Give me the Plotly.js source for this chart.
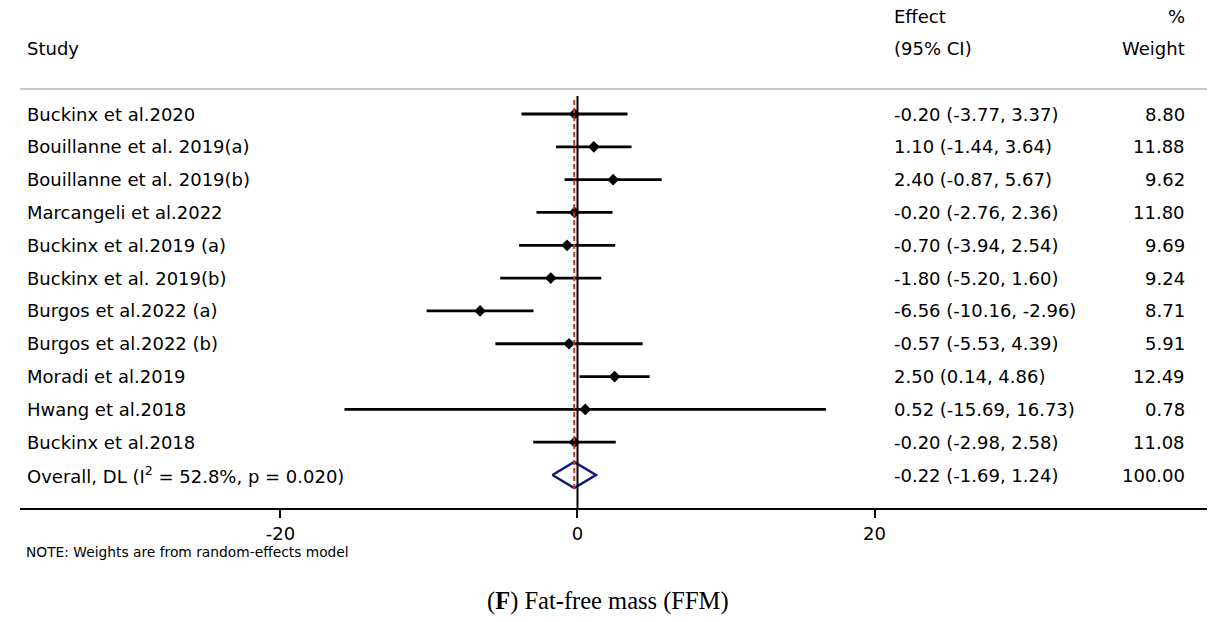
<!DOCTYPE html>
<html>
<head>
<meta charset="utf-8">
<script src="https://cdn.plot.ly/plotly-3.0.1.min.js"></script>
<style>
html,body{margin:0;padding:0;background:#fff;}
#chart{width:1218px;height:622px;}
</style>
</head>
<body>
<div id="chart"></div>
<script>
// ---- data ----
const studies = [
  "Buckinx et al.2020",
  "Bouillanne et al. 2019(a)",
  "Bouillanne et al. 2019(b)",
  "Marcangeli et al.2022",
  "Buckinx et al.2019 (a)",
  "Buckinx et al. 2019(b)",
  "Burgos et al.2022 (a)",
  "Burgos et al.2022 (b)",
  "Moradi et al.2019",
  "Hwang et al.2018",
  "Buckinx et al.2018"
];
const effects = [-0.20, 1.10, 2.40, -0.20, -0.70, -1.80, -6.56, -0.57, 2.50, 0.52, -0.20];
const ciLow   = [-3.77, -1.44, -0.87, -2.76, -3.94, -5.20, -10.16, -5.53, 0.14, -15.69, -2.98];
const ciHigh  = [3.37, 3.64, 5.67, 2.36, 2.54, 1.60, -2.96, 4.39, 4.86, 16.73, 2.58];
const weights = [8.80, 11.88, 9.62, 11.80, 9.69, 9.24, 8.71, 5.91, 12.49, 0.78, 11.08];

const overallLabel = "Overall, DL (I<sup>2</sup> = 52.8%, p = 0.020)";
const overallEffect = -0.22;
const overallLow = -1.69;
const overallHigh = 1.24;
const overallWeight = 100.00;

const xTicks = [-20, 0, 20];

// ---- layout helpers ----
const FONT = "DejaVu Sans, Liberation Sans, Arial, sans-serif";
const rows = studies.map((s, i) => i + 1);
const overallRow = studies.length + 1;
const yBottom = 13.005, yTop = -2.4735;

const fmt = v => v.toFixed(2);

const annotations = [];
function addText(text, x, y, anchor, size) {
  annotations.push({
    text: text, x: x, y: y, xref: "paper", yref: "y",
    xanchor: anchor, yanchor: "middle", showarrow: false,
    font: {family: FONT, size: size || 18, color: "#000"}
  });
}
const xStudy = 0.0042, xEffect = 0.7346, xWeight = 0.9832;

// header
addText("Effect", xEffect, -1.986, "left");
addText("%", xWeight, -1.986, "right");
addText("Study", xStudy, -1.011, "left");
addText("(95% CI)", xEffect, -1.011, "left");
addText("Weight", xWeight, -1.011, "right");

studies.forEach((s, i) => {
  addText(s, xStudy, rows[i], "left");
  addText(fmt(effects[i]) + " (" + fmt(ciLow[i]) + ", " + fmt(ciHigh[i]) + ")", xEffect, rows[i], "left");
  addText(fmt(weights[i]), xWeight, rows[i], "right");
});
addText(overallLabel, xStudy, overallRow, "left");
addText(fmt(overallEffect) + " (" + fmt(overallLow) + ", " + fmt(overallHigh) + ")", xEffect, overallRow, "left");
addText(fmt(overallWeight), xWeight, overallRow, "right");

// footnote & caption
annotations.push({
  text: "NOTE: Weights are from random-effects model",
  x: 0.0034, y: -0.0866, xref: "paper", yref: "paper",
  xanchor: "left", yanchor: "middle", showarrow: false,
  font: {family: FONT, size: 13.8, color: "#000"}
});
annotations.push({
  text: "(<b>F</b>) Fat-free mass (FFM)",
  x: 0.4956, y: -0.1831, xref: "paper", yref: "paper",
  xanchor: "center", yanchor: "middle", showarrow: false,
  font: {family: "Liberation Serif, Times New Roman, serif", size: 24.5, color: "#000"}
});

const studyTrace = {
  type: "scatter", mode: "markers",
  x: effects, y: rows,
  error_x: {
    type: "data", symmetric: false,
    array: effects.map((e, i) => ciHigh[i] - e),
    arrayminus: effects.map((e, i) => e - ciLow[i]),
    thickness: 2.8, width: 0, color: "#000"
  },
  marker: {symbol: "diamond", size: 9, color: "#000"},
  cliponaxis: false, hoverinfo: "skip"
};

const dh = 0.4;
const diamondTrace = {
  type: "scatter", mode: "lines",
  x: [overallLow, overallEffect, overallHigh, overallEffect, overallLow],
  y: [overallRow, overallRow - dh, overallRow, overallRow + dh, overallRow],
  line: {color: "#14197a", width: 2.5},
  hoverinfo: "skip"
};

const shapes = [
  // header separator
  {type: "line", xref: "paper", yref: "y", x0: 0, x1: 1, y0: 0.238, y1: 0.238,
   line: {color: "#c8c8c8", width: 2}},
  // line of no effect
  {type: "line", xref: "x", yref: "y", x0: 0, x1: 0, y0: 0.45, y1: yBottom,
   line: {color: "#000", width: 2}},
  // overall effect dashed line
  {type: "line", xref: "x", yref: "y", x0: overallEffect, x1: overallEffect, y0: 0.57, y1: 12.46,
   line: {color: "#c0392b", width: 2, dash: "5px,3px"}}
];

const layout = {
  width: 1218, height: 622,
  margin: {l: 20, r: 11, t: 0, b: 114, pad: 0},
  paper_bgcolor: "#fff", plot_bgcolor: "#fff",
  showlegend: false,
  xaxis: {
    range: [-37.54, 42.39], tickvals: xTicks, ticktext: xTicks.map(String),
    showgrid: false, zeroline: false, showline: true, linecolor: "#000", linewidth: 2,
    ticks: "outside", ticklen: 8, tickwidth: 2, tickcolor: "#000",
    tickfont: {family: FONT, size: 18, color: "#000"}, fixedrange: true
  },
  yaxis: {
    range: [yBottom, yTop], showgrid: false, zeroline: false, showline: false,
    showticklabels: false, ticks: "", fixedrange: true
  },
  shapes: shapes,
  annotations: annotations
};

Plotly.newPlot("chart", [studyTrace, diamondTrace], layout, {staticPlot: true, displayModeBar: false});
</script>
</body>
</html>
